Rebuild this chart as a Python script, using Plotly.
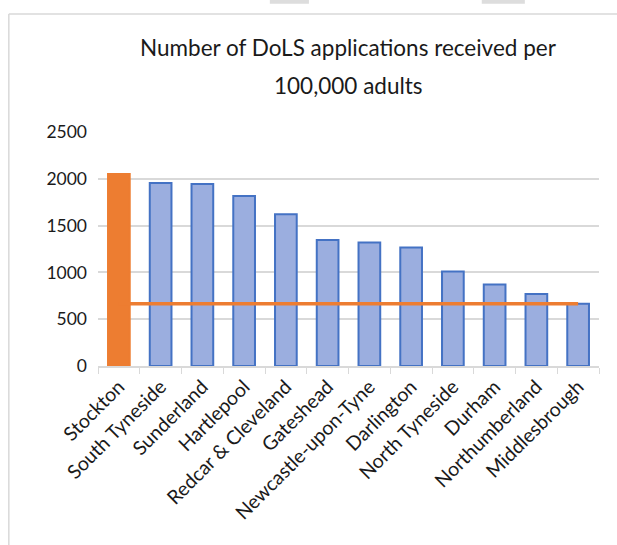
import plotly.graph_objects as go

areas = ["Stockton", "South Tyneside", "Sunderland", "Hartlepool", "Redcar & Cleveland",
         "Gateshead", "Newcastle-upon-Tyne", "Darlington", "North Tyneside", "Durham",
         "Northumberland", "Middlesbrough"]
applications = [2050, 1955, 1945, 1815, 1620, 1345, 1320, 1265, 1010, 870, 770, 665]
benchmark = [665, 665, 665, 665, 665, 665, 665, 665, 665, 665, 665, 665]
y_ticks = [0, 500, 1000, 1500, 2000, 2500]
title_lines = ["Number of DoLS applications received per", "100,000 adults"]

font_family = "Lato, Open Sans, sans-serif"
bar_colors = ["#ED7D31"] + ["#9BAEDF"] * (len(areas) - 1)
line_colors = ["#ED7D31"] + ["#4472C4"] * (len(areas) - 1)

fig = go.Figure()
fig.add_trace(go.Bar(
    x=areas, y=applications,
    marker=dict(color=bar_colors, line=dict(color=line_colors, width=2)),
    width=0.52, showlegend=False,
))
fig.add_trace(go.Scatter(
    x=areas, y=benchmark, mode="lines",
    line=dict(color="#ED7D31", width=3.5), showlegend=False,
))

annotations = [
    dict(text=title_lines[0], xref="paper", yref="paper", x=0.5, y=1.359,
         xanchor="center", yanchor="middle", showarrow=False,
         font=dict(size=22.5, family=font_family, color="#1a1a1a")),
    dict(text=title_lines[1], xref="paper", yref="paper", x=0.5, y=1.197,
         xanchor="center", yanchor="middle", showarrow=False,
         font=dict(size=22.5, family=font_family, color="#1a1a1a")),
]

fig.update_layout(
    width=617, height=545,
    margin=dict(l=98, r=18, t=132, b=179),
    paper_bgcolor="white", plot_bgcolor="white",
    font=dict(family=font_family, color="#1a1a1a"),
    annotations=annotations,
    xaxis=dict(
        tickangle=-45, tickfont=dict(size=19.5),
        showline=True, linecolor="#D9D9D9", linewidth=1.5,
        ticks="outside", tickson="boundaries", ticklen=6, tickcolor="#D9D9D9",
        showgrid=False, automargin=False,
    ),
    yaxis=dict(
        range=[0, 2500], tickvals=y_ticks, tickfont=dict(size=17.5),
        showgrid=True, gridcolor="#D9D9D9", gridwidth=1.5,
        zeroline=False, ticks="", ticklabelstandoff=10,
    ),
    shapes=[
        dict(type="line", xref="paper", yref="paper", x0=-0.178, x1=1.1, y0=1.504, y1=1.504,
             line=dict(color="#D9D9D9", width=1.5)),
        dict(type="line", xref="paper", yref="paper", x0=-0.178, x1=-0.178, y0=1.504, y1=-1.0,
             line=dict(color="#D9D9D9", width=1.5)),
        dict(type="rect", xref="paper", yref="paper", x0=0.343, x1=0.421, y0=1.548, y1=1.58,
             fillcolor="#DDDDDD", line=dict(width=0)),
        dict(type="rect", xref="paper", yref="paper", x0=0.766, x1=0.852, y0=1.548, y1=1.58,
             fillcolor="#DDDDDD", line=dict(width=0)),
    ],
)

fig.write_html("out.html")
